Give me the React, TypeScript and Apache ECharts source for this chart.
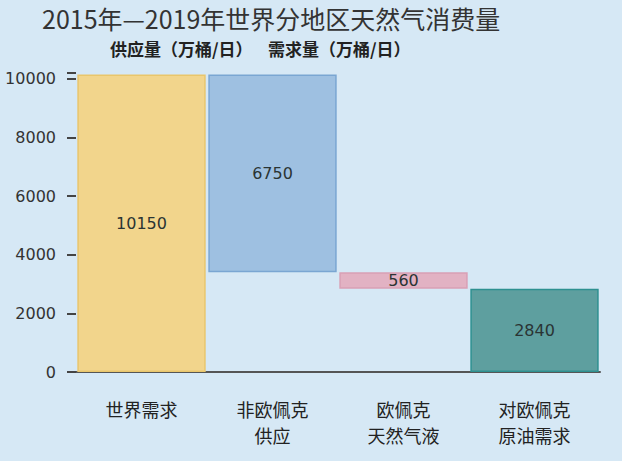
import React, { useEffect, useRef } from "react";
import * as echarts from "echarts";

const titleText = "2015年—2019年世界分地区天然气消费量";
const legendSupply = "供应量（万桶/日）";
const legendDemand = "需求量（万桶/日）";
const categories = ["世界需求", "非欧佩克\n供应", "欧佩克\n天然气液", "对欧佩克\n原油需求"];
const values = [10150, 6750, 560, 2840];
// waterfall: first and last bars start at 0, middle bars step down from the running total
const isTotal = [true, false, false, true];
const barColors = ["#f2d58c", "#9ec0e1", "#e2b2c3", "#5e9f9f"];
const borderColors = ["#e9c66c", "#7aa6d2", "#d9a0b5", "#2e9090"];
const yTicks = [0, 2000, 4000, 6000, 8000, 10000];

export default function App() {
  const ref = useRef<HTMLDivElement>(null);
  useEffect(() => {
    document.body.style.margin = "0";
    const chart = echarts.init(ref.current!, null, { renderer: "svg" });
    let running = values[0];
    const bases = values.map((v, i) => {
      if (i === 0 || isTotal[i]) return 0;
      running -= v;
      return running;
    });
    const cjk = "Noto Sans CJK SC";
    chart.setOption({
      animation: false,
      backgroundColor: "#d6e8f5",
      title: {
        text: titleText,
        left: 37,
        top: 0,
        textStyle: { fontSize: 25, fontWeight: "normal", color: "#333", fontFamily: cjk },
      },
      graphic: [
        {
          type: "text",
          left: 110,
          top: 40,
          style: { text: legendSupply, fontSize: 17, fontWeight: "bold", fill: "#222", fontFamily: cjk },
        },
        {
          type: "text",
          left: 268,
          top: 40,
          style: { text: legendDemand, fontSize: 17, fontWeight: "bold", fill: "#222", fontFamily: cjk },
        },
      ],
      grid: { left: 76, right: 22, top: 73, bottom: 89 },
      xAxis: {
        type: "category",
        data: categories,
        axisLine: { lineStyle: { color: "#555", width: 2 } },
        axisTick: { show: false },
        axisLabel: {
          margin: 24,
          fontSize: 18,
          lineHeight: 26,
          color: "#222",
          fontFamily: cjk,
        },
      },
      yAxis: {
        type: "value",
        min: 0,
        max: 10200,
        interval: 2000,
        splitLine: { show: false },
        axisLine: { show: false },
        axisTick: { show: true, length: 9, lineStyle: { color: "#444", width: 2 } },
        axisLabel: {
          margin: 20,
          fontSize: 16,
          color: "#333",
          fontFamily: "DejaVu Sans",
          formatter: (v: number) => (yTicks.includes(v) ? String(v) : ""),
        },
      },
      series: [
        {
          type: "bar",
          stack: "w",
          data: bases,
          itemStyle: { color: "transparent" },
          barCategoryGap: "2%",
          silent: true,
        },
        {
          type: "bar",
          stack: "w",
          barCategoryGap: "2%",
          data: values.map((v, i) => ({
            value: v,
            itemStyle: { color: barColors[i], borderColor: borderColors[i], borderWidth: 1.5 },
          })),
          label: {
            show: true,
            position: "inside",
            fontSize: 16,
            color: "#2a3434",
            fontFamily: "DejaVu Sans",
          },
        },
      ],
    });
    return () => chart.dispose();
  }, []);
  return <div ref={ref} style={{ width: 622, height: 461 }} />;
}
